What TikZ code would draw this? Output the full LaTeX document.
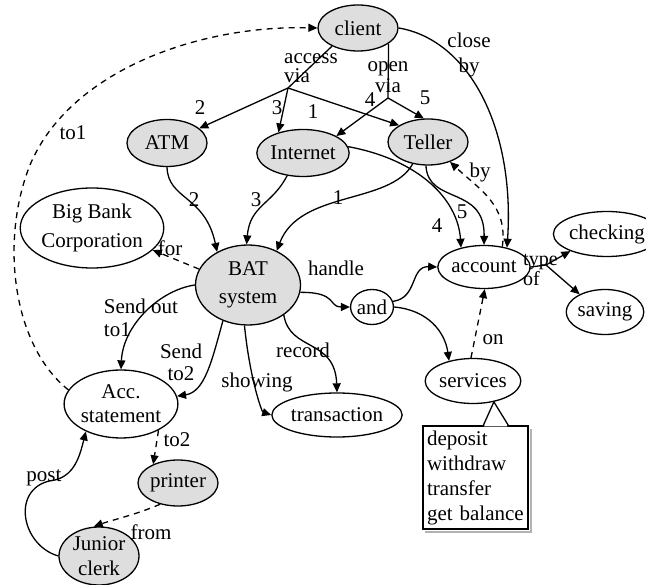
\documentclass[tikz,border=0pt]{standalone}
\usepackage{fontspec}
\setmainfont{Liberation Serif}
\usetikzlibrary{arrows.meta,shapes.geometric,calc}
\begin{document}
\begin{tikzpicture}[x=1pt,y=-1pt,
  every node/.style={font=\fontsize{21}{22}\selectfont},
  concept/.style={ellipse,draw,line width=1.3pt,inner sep=0pt,align=center},
  actor/.style={concept,fill=black!13},
  lbl/.style={inner sep=0pt,align=center},
  plain/.style={line width=1.3pt},
  link/.style={plain,-{Triangle[length=9pt,width=8pt]}},
  weak/.style={link,dash pattern=on 6pt off 5pt},
]
\useasboundingbox (0,0) rectangle (646,585);

% ---- concepts ----
\node[actor,minimum width=80pt,minimum height=46pt] (client) at (358,28) {client};
\node[actor,minimum width=80pt,minimum height=47pt] (atm) at (167,143) {ATM};
\node[actor,minimum width=80pt,minimum height=47pt] (internet) at (303,153) {Internet};
\node[actor,minimum width=80pt,minimum height=46pt] (teller) at (428,142) {Teller};
\node[concept,minimum width=115pt,minimum height=80pt,font=\fontsize{21}{29}\selectfont] (bigbank) at (92,228) {Big Bank\\Corporation};
\node[actor,minimum width=105pt,minimum height=80pt,font=\fontsize{21}{28}\selectfont] (bat) at (248,285) {BAT\\system};
\node[concept,minimum width=103pt,minimum height=68pt,font=\fontsize{21}{24}\selectfont] (acc) at (121,404) {Acc.\\statement};
\node[actor,minimum width=80pt,minimum height=46pt] (printer) at (178,483) {printer};
\node[actor,minimum width=80pt,minimum height=58pt,font=\fontsize{21}{25}\selectfont] (junior) at (99,556) {Junior\\clerk};
\node[concept,minimum width=104pt,minimum height=44pt] (transaction) at (337,415) {transaction};
\node[concept,minimum width=37pt,minimum height=35pt] (and) at (372,307) {and};
\node[concept,minimum width=80pt,minimum height=43pt] (account) at (484,267) {account};
\node[concept,minimum width=78pt,minimum height=45pt] (checking) at (607,234) {checking};
\node[concept,minimum width=72pt,minimum height=45pt] (saving) at (605,312) {saving};
\node[concept,minimum width=80pt,minimum height=45pt] (services) at (473,381) {services};

% ---- branching points ----
\coordinate (av) at (288,88);
\coordinate (ov) at (388,98);
\coordinate (tj) at (546,265);

% ---- access via ----
\draw[plain] (client.215) -- (av);
\draw[link] (av) -- (atm);
\draw[link] (av) -- (internet.140);
\draw[link] (av) -- (teller.150);
\node[lbl,anchor=west,align=left,font=\fontsize{21}{19}\selectfont] (lav) at (284,68) {access\\via};
\node[lbl] (l2a) at (200,108) {2};
\node[lbl] (l3a) at (277,108) {3};
\node[lbl] (l1a) at (313,112) {1};

% ---- open via ----
\draw[plain] (client.-27) -- (ov);
\draw[link] (ov) -- (internet.27);
\draw[link] (ov) -- (teller.100);
\node[lbl,font=\fontsize{21}{21}\selectfont] (lov) at (388,77) {open\\via};
\node[lbl] (l4a) at (370,100) {4};
\node[lbl] (l5a) at (425,98) {5};

% ---- close by ----
\draw[link] (client.east) .. controls (470,40) and (515,130) .. (account.40);
\node[lbl,font=\fontsize{21}{25}\selectfont] (lcb) at (469,55) {close\\by};

% ---- by (dashed) ----
\draw[weak] (account.48) .. controls (508,205) and (480,190) .. (teller.-42);
\node[lbl] (lby) at (480,172) {by};

% ---- channels to BAT ----
\draw[link] (atm.south) .. controls (168,200) and (205,195) .. (bat.133);
\node[lbl] (l2b) at (194,200) {2};
\draw[link] (internet.235) .. controls (272,205) and (250,205) .. (bat.92);
\node[lbl] (l3b) at (256,200) {3};
\draw[link] (teller.235) .. controls (390,205) and (300,190) .. (bat.50);
\node[lbl] (l1b) at (338,198) {1};

% ---- channels to account ----
\draw[link] (internet.8) .. controls (420,160) and (458,200) .. (account.140);
\node[lbl] (l4b) at (437,226) {4};
\draw[link] (teller.-95) .. controls (428,205) and (485,185) .. (account.90);
\node[lbl] (l5b) at (462,212) {5};

% ---- for ----
\draw[weak] (bat.162) -- (bigbank.-20);
\node[lbl] (lfor) at (170,248) {for};

% ---- handle ----
\draw[link] (bat.-8) .. controls (338,292) and (328,307) .. (and.west);
\node[lbl] (lhandle) at (336,268) {handle};
\draw[link] (and.15) .. controls (418,298) and (410,266) .. (account.west);
\draw[link] (and.east) .. controls (428,310) and (445,332) .. (services.140);

% ---- on ----
\draw[weak] (services.95) -- (account.-88);
\node[lbl] (lon) at (493,340) {on};

% ---- type of ----
\draw[plain] (account.east) -- (tj);
\draw[link] (tj) -- (checking.-155);
\draw[link] (tj) -- (saving.145);
\node[lbl,anchor=west,align=left,font=\fontsize{20}{20}\selectfont] (ltype) at (523,270) {type\\of};

% ---- statements ----
\draw[link] (bat.west) .. controls (160,290) and (123,325) .. (acc.north);
\node[lbl,align=left,font=\fontsize{21}{23}\selectfont] (lsendout) at (141,318) {Send out\\to1};
\draw[link] (bat.235) .. controls (212,360) and (205,392) .. (acc.8);
\node[lbl,font=\fontsize{21}{22}\selectfont] (lsend) at (181,362) {Send\\to2};

% ---- transactions ----
\draw[link] (bat.-95) .. controls (250,380) and (262,412) .. (transaction.west);
\node[lbl] (lshowing) at (257,382) {showing};
\draw[link] (bat.-40) .. controls (290,352) and (335,338) .. (transaction.north);
\node[lbl] (lrecord) at (303,350) {record};

% ---- to1 (dashed, back to client) ----
\draw[weak] (acc.165) .. controls (12,345) and (0,240) .. (30,165)
  .. controls (70,70) and (200,25) .. (client.west);
\node[lbl] (lto1) at (73,133) {to1};

% ---- printing ----
\draw[weak] (acc.-35) -- (printer.143);
\node[lbl] (lto2) at (177,440) {to2};
\draw[weak] (printer.-130) .. controls (135,515) and (112,520) .. (junior.100);
\node[lbl] (lfrom) at (151,532) {from};

% ---- post ----
\draw[link] (junior.west) .. controls (20,545) and (10,485) .. (55,480)
  .. controls (75,475) and (80,455) .. (acc.218);
\node[lbl] (lpost) at (44,478) {post};

% ---- services note ----
\node[rectangle,draw,line width=1.3pt,fill=white,minimum width=105pt,minimum height=103pt,
      inner sep=4pt,text width=97pt,align=left,font=\fontsize{21}{25}\selectfont]
      (notes) at (475.5,477.5) {deposit\\withdraw\\transfer\\get balance};
\draw[gray!60,line width=2pt] ($(notes.north east)+(2,4)$) -- ($(notes.south east)+(2,2)$)
  -- ($(notes.south west)+(3,2)$);
\fill[white] ($(notes.north west)+(61.8,1)$) -- (services.-45) -- ($(notes.north west)+(85.2,1)$) -- cycle;
\draw[plain,line join=miter] ($(notes.north west)+(61,0)$) -- (services.-45) -- ($(notes.north west)+(86,0)$);
\end{tikzpicture}
\end{document}
